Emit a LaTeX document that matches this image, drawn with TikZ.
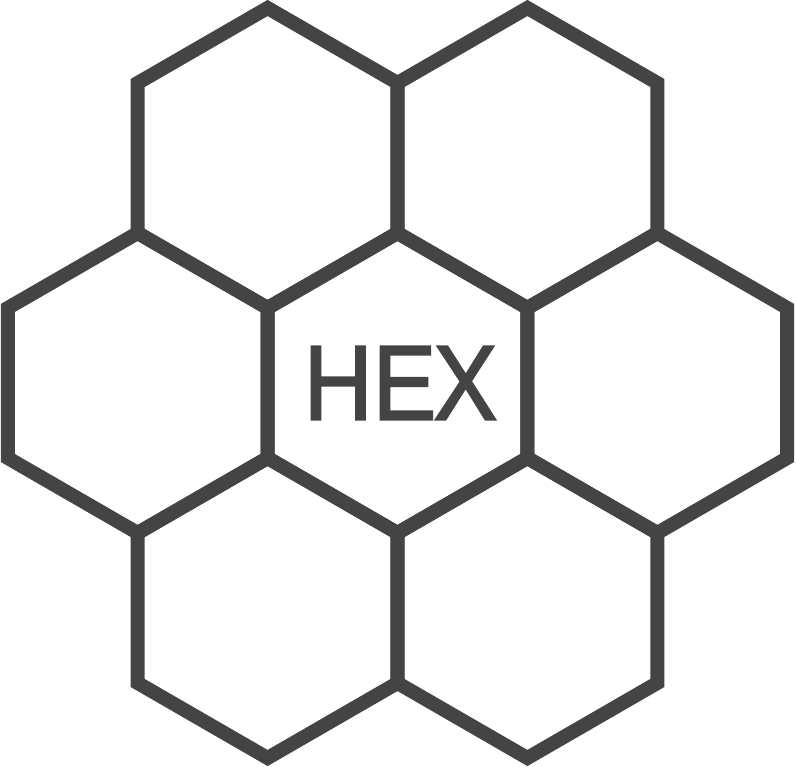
\documentclass[tikz,border=0pt]{standalone}
\usepackage{fontspec}
\newfontfamily\hexfont[FakeBold=2]{Liberation Sans}
\usepackage{xcolor}
\usetikzlibrary{positioning, shapes.geometric}
\definecolor{hexgray}{RGB}{68,68,68}

\begin{document}
\begin{tikzpicture}[
        x=1pt, y=1pt,
        cell/.style = {draw=hexgray, line width=14pt, regular polygon, regular polygon sides=6,
                       shape border rotate=30, minimum size=300pt, inner sep=0pt, outer sep=0pt},
        label/.style = {text=hexgray, font=\hexfont\fontsize{106}{110}\selectfont, inner sep=0pt, xscale=0.9},
    ]
        \useasboundingbox (0,0) rectangle (796,767);
        % middle row
        \node[cell] (hc) at (397.5,384) {};
        \node[cell] (hw) at (137.7,384) {};
        \node[cell] (he) at (657.3,384) {};
        % top and bottom rows
        \node[cell] (hnw) at (267.6,609) {};
        \node[cell] (hne) at (527.4,609) {};
        \node[cell] (hsw) at (267.6,159) {};
        \node[cell] (hse) at (527.4,159) {};
        \node[label] (name) at ([xshift=3pt]hc.center) {HE\kern-3ptX};
    \end{tikzpicture}
\end{document}
